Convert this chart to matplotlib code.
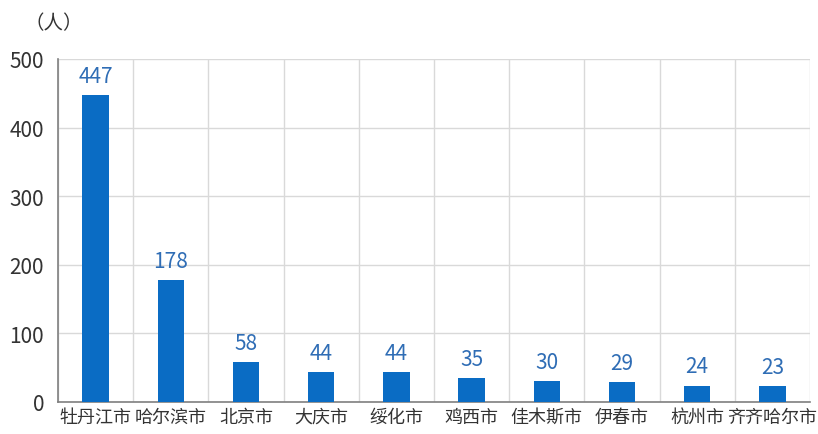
import matplotlib
matplotlib.use('Agg')
import matplotlib.pyplot as plt
import numpy as np

plt.rcParams['font.family'] = ['Noto Sans CJK SC', 'DejaVu Sans']

# 城市及人数
cities = ['牡丹江市', '哈尔滨市', '北京市', '大庆市', '绥化市',
          '鸡西市', '佳木斯市', '伊春市', '杭州市', '齐齐哈尔市']
counts = [447, 178, 58, 44, 44, 35, 30, 29, 24, 23]
y_ticks = [0, 100, 200, 300, 400, 500]

bar_color = '#0a6cc4'
label_color = '#2f6db5'
text_color = '#333333'

fig = plt.figure(figsize=(8.18, 4.35), dpi=100)
ax = fig.add_axes([58 / 818, 1 - 403 / 435, 752 / 818, 343 / 435])

x = np.arange(len(cities))
ax.bar(x, counts, width=0.35, color=bar_color, zorder=3)

for xi, v in zip(x, counts):
    ax.text(xi, v + 12, str(v), ha='center', va='bottom',
            fontsize=15, color=label_color, zorder=4)

ax.set_xlim(-0.5, len(cities) - 0.5)
ax.set_ylim(0, 500)
ax.set_yticks(y_ticks)
ax.set_xticks(x)
ax.set_xticklabels(cities, fontsize=13, color=text_color)
ax.tick_params(axis='y', labelsize=15, labelcolor=text_color, length=0, pad=10)
ax.tick_params(axis='x', length=0, pad=4)

# 网格：横线 + 类目分隔竖线
ax.set_xticks(np.arange(-0.5, len(cities), 1), minor=True)
ax.grid(axis='y', color='#d9d9d9', linewidth=1, zorder=0)
ax.grid(axis='x', which='minor', color='#d9d9d9', linewidth=1, zorder=0)
ax.tick_params(axis='x', which='minor', length=0)

for s in ['top', 'right']:
    ax.spines[s].set_visible(False)
ax.spines['left'].set_color('#7f7f7f')
ax.spines['bottom'].set_color('#7f7f7f')
ax.spines['left'].set_linewidth(1.2)
ax.spines['bottom'].set_linewidth(1.2)

fig.text(24 / 818, 1 - 24 / 435, '（人）', fontsize=14, color=text_color,
         ha='left', va='center')

fig.savefig('out.png', dpi=100)
